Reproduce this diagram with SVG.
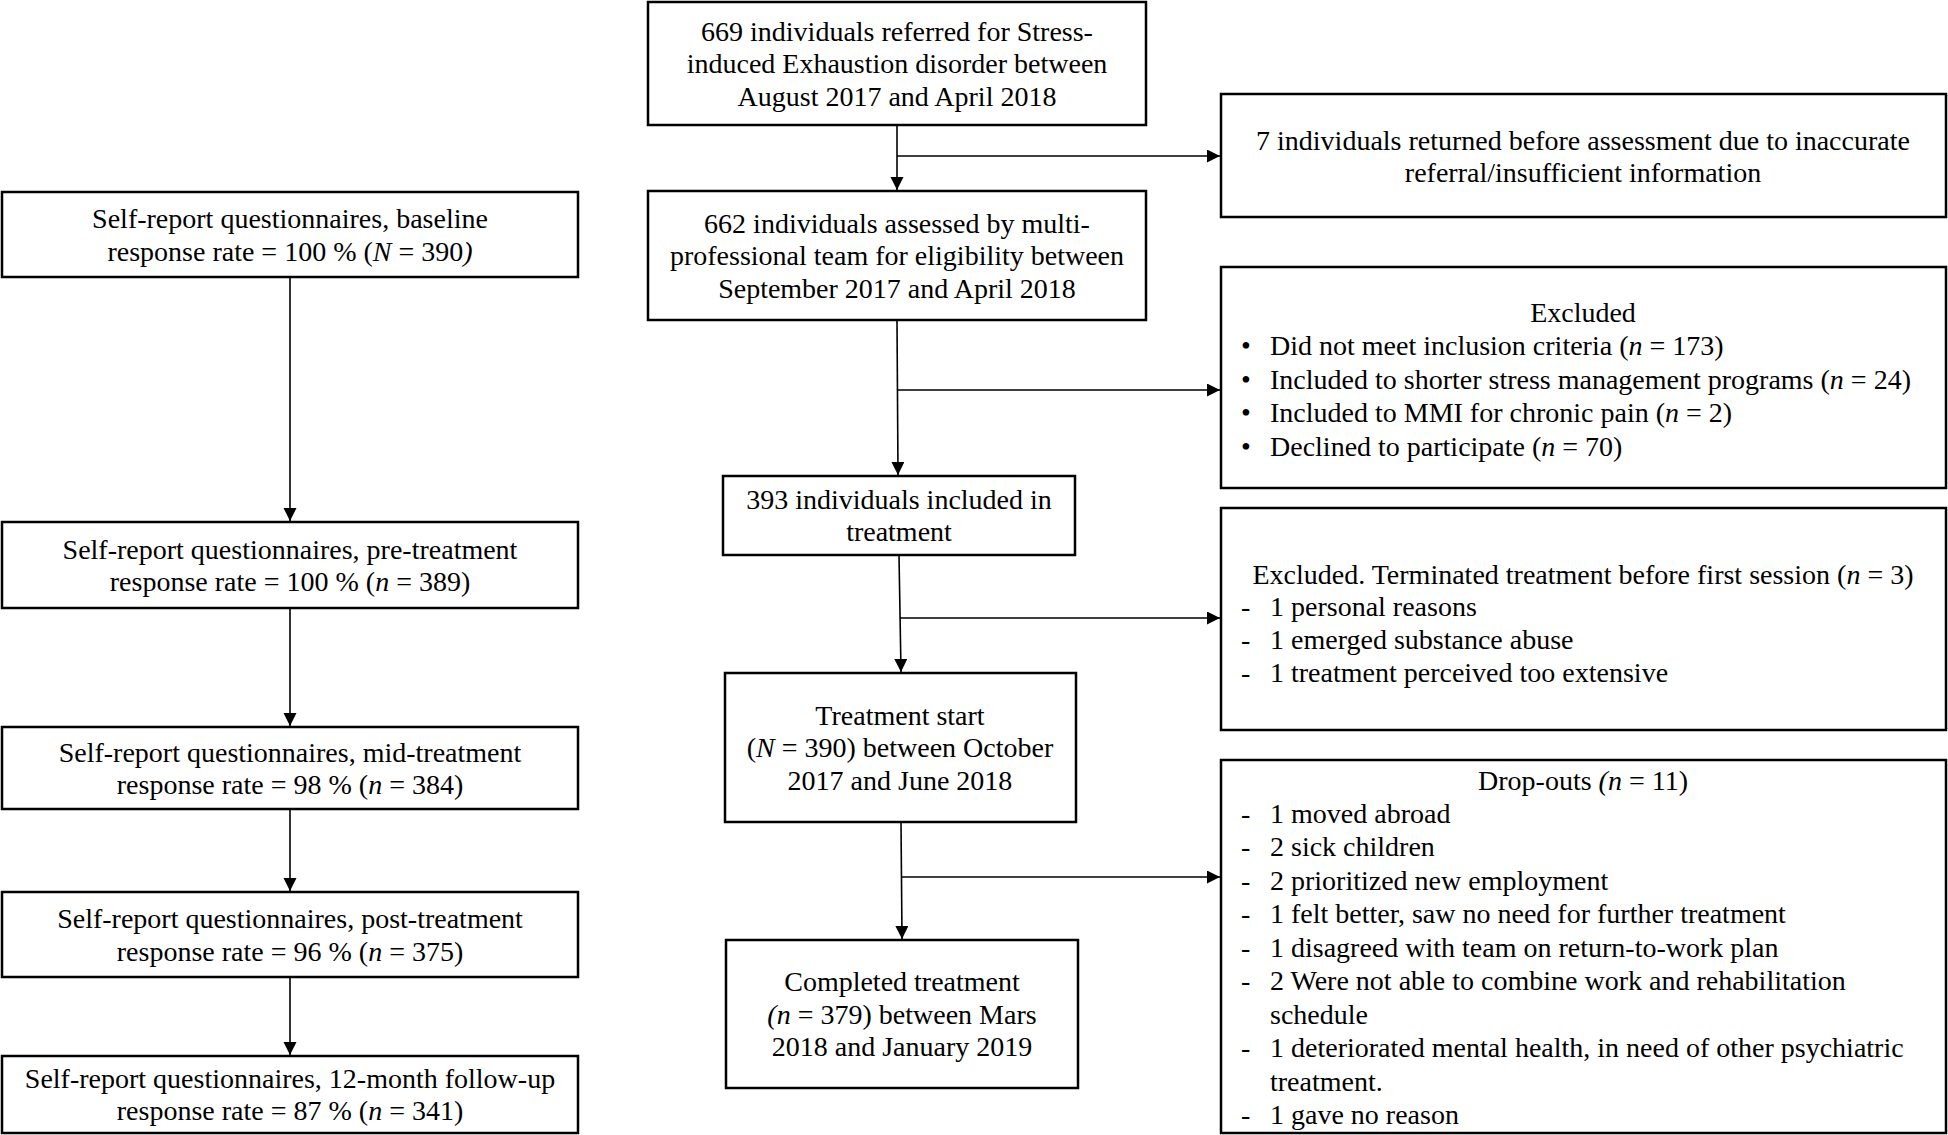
<svg xmlns="http://www.w3.org/2000/svg" width="1948" height="1135" viewBox="0 0 1948 1135">
<style>
.box{fill:#fff;stroke:#000;stroke-width:2.5}
.t{font-family:"Liberation Serif","Times New Roman",serif;font-size:28px;fill:#000}
.c{text-anchor:middle}
.i{font-style:italic}
.ln{stroke:#000;stroke-width:1.6;fill:none}
</style>
<defs>
<marker id="ah" markerUnits="userSpaceOnUse" markerWidth="14" markerHeight="14" refX="13" refY="6.5" orient="auto"><path d="M0,0 L13,6.5 L0,13 z" fill="#000"/></marker>
</defs>
<rect width="1948" height="1135" fill="#fff"/>

<g id="connectors">
<line class="ln" x1="897" y1="125" x2="897" y2="190" marker-end="url(#ah)"/>
<line class="ln" x1="897" y1="156" x2="1220" y2="156" marker-end="url(#ah)"/>
<line class="ln" x1="897" y1="320" x2="898" y2="475" marker-end="url(#ah)"/>
<line class="ln" x1="898" y1="390" x2="1220" y2="390" marker-end="url(#ah)"/>
<line class="ln" x1="899" y1="555" x2="901" y2="672" marker-end="url(#ah)"/>
<line class="ln" x1="900" y1="618" x2="1220" y2="618" marker-end="url(#ah)"/>
<line class="ln" x1="901" y1="822" x2="902" y2="939" marker-end="url(#ah)"/>
<line class="ln" x1="901" y1="877" x2="1220" y2="877" marker-end="url(#ah)"/>
<line class="ln" x1="290" y1="277" x2="290" y2="521" marker-end="url(#ah)"/>
<line class="ln" x1="290" y1="608" x2="290" y2="726" marker-end="url(#ah)"/>
<line class="ln" x1="290" y1="809" x2="290" y2="891" marker-end="url(#ah)"/>
<line class="ln" x1="290" y1="977" x2="290" y2="1055" marker-end="url(#ah)"/>
</g>

<g id="referred">
<rect class="box" x="648" y="2" width="498" height="123"/>
<text class="t c" x="897" y="41">669 individuals referred for Stress-</text>
<text class="t c" x="897" y="73">induced Exhaustion disorder between</text>
<text class="t c" x="897" y="106">August 2017 and April 2018</text>
</g>

<g id="returned">
<rect class="box" x="1221" y="94" width="725" height="123"/>
<text class="t c" x="1583" y="150">7 individuals returned before assessment due to inaccurate</text>
<text class="t c" x="1583" y="182">referral/insufficient information</text>
</g>

<g id="assessed">
<rect class="box" x="648" y="191" width="498" height="129"/>
<text class="t c" x="897" y="233">662 individuals assessed by multi-</text>
<text class="t c" x="897" y="265">professional team for eligibility between</text>
<text class="t c" x="897" y="298">September 2017 and April 2018</text>
</g>

<g id="excluded1">
<rect class="box" x="1221" y="267" width="725" height="221"/>
<text class="t c" x="1583" y="322">Excluded</text>
<text class="t" x="1241" y="355">•</text><text class="t" x="1270" y="355">Did not meet inclusion criteria (<tspan class="i">n</tspan> = 173)</text>
<text class="t" x="1241" y="389">•</text><text class="t" x="1270" y="389">Included to shorter stress management programs (<tspan class="i">n</tspan> = 24)</text>
<text class="t" x="1241" y="422">•</text><text class="t" x="1270" y="422">Included to MMI for chronic pain (<tspan class="i">n</tspan> = 2)</text>
<text class="t" x="1241" y="456">•</text><text class="t" x="1270" y="456">Declined to participate (<tspan class="i">n</tspan> = 70)</text>
</g>

<g id="included">
<rect class="box" x="723" y="476" width="352" height="79"/>
<text class="t c" x="899" y="509">393 individuals included in</text>
<text class="t c" x="899" y="541">treatment</text>
</g>

<g id="excluded2">
<rect class="box" x="1221" y="508" width="725" height="222"/>
<text class="t c" x="1583" y="584">Excluded. Terminated treatment before first session (<tspan class="i">n</tspan> = 3)</text>
<text class="t" x="1241" y="616">-</text><text class="t" x="1270" y="616">1 personal reasons</text>
<text class="t" x="1241" y="649">-</text><text class="t" x="1270" y="649">1 emerged substance abuse</text>
<text class="t" x="1241" y="682">-</text><text class="t" x="1270" y="682">1 treatment perceived too extensive</text>
</g>

<g id="treatment-start">
<rect class="box" x="725" y="673" width="351" height="149"/>
<text class="t c" x="900" y="725">Treatment start</text>
<text class="t c" x="900" y="757">(<tspan class="i">N</tspan> = 390) between October</text>
<text class="t c" x="900" y="790">2017 and June 2018</text>
</g>

<g id="dropouts">
<rect class="box" x="1221" y="760" width="725" height="373"/>
<text class="t c" x="1583" y="790">Drop-outs <tspan class="i">(n</tspan> = 11)</text>
<text class="t" x="1241" y="823">-</text><text class="t" x="1270" y="823">1 moved abroad</text>
<text class="t" x="1241" y="856">-</text><text class="t" x="1270" y="856">2 sick children</text>
<text class="t" x="1241" y="890">-</text><text class="t" x="1270" y="890">2 prioritized new employment</text>
<text class="t" x="1241" y="923">-</text><text class="t" x="1270" y="923">1 felt better, saw no need for further treatment</text>
<text class="t" x="1241" y="957">-</text><text class="t" x="1270" y="957">1 disagreed with team on return-to-work plan</text>
<text class="t" x="1241" y="990">-</text><text class="t" x="1270" y="990">2 Were not able to combine work and rehabilitation</text>
<text class="t" x="1270" y="1024">schedule</text>
<text class="t" x="1241" y="1057">-</text><text class="t" x="1270" y="1057">1 deteriorated mental health, in need of other psychiatric</text>
<text class="t" x="1270" y="1091">treatment.</text>
<text class="t" x="1241" y="1124">-</text><text class="t" x="1270" y="1124">1 gave no reason</text>
</g>

<g id="completed">
<rect class="box" x="726" y="940" width="352" height="148"/>
<text class="t c" x="902" y="991">Completed treatment</text>
<text class="t c" x="902" y="1024"><tspan class="i">(n</tspan> = 379) between Mars</text>
<text class="t c" x="902" y="1056">2018 and January 2019</text>
</g>

<g id="q-baseline">
<rect class="box" x="2" y="192" width="576" height="85"/>
<text class="t c" x="290" y="228">Self-report questionnaires, baseline</text>
<text class="t c" x="290" y="261">response rate = 100 % (<tspan class="i">N</tspan> = 390<tspan class="i">)</tspan></text>
</g>

<g id="q-pre">
<rect class="box" x="2" y="522" width="576" height="86"/>
<text class="t c" x="290" y="559">Self-report questionnaires, pre-treatment</text>
<text class="t c" x="290" y="591">response rate = 100 % (<tspan class="i">n</tspan> = 389)</text>
</g>

<g id="q-mid">
<rect class="box" x="2" y="727" width="576" height="82"/>
<text class="t c" x="290" y="762">Self-report questionnaires, mid-treatment</text>
<text class="t c" x="290" y="794">response rate = 98 % (<tspan class="i">n</tspan> = 384)</text>
</g>

<g id="q-post">
<rect class="box" x="2" y="892" width="576" height="85"/>
<text class="t c" x="290" y="928">Self-report questionnaires, post-treatment</text>
<text class="t c" x="290" y="961">response rate = 96 % (<tspan class="i">n</tspan> = 375)</text>
</g>

<g id="q-followup">
<rect class="box" x="2" y="1056" width="576" height="77"/>
<text class="t c" x="290" y="1088">Self-report questionnaires, 12-month follow-up</text>
<text class="t c" x="290" y="1120">response rate = 87 % (<tspan class="i">n</tspan> = 341)</text>
</g>
</svg>
